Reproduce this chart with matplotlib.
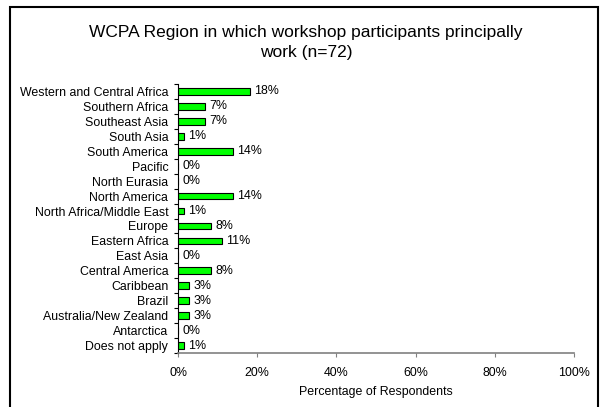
import numpy as np
import matplotlib
matplotlib.use("Agg")
import matplotlib.pyplot as plt
from matplotlib.patches import Rectangle
from matplotlib.ticker import FixedLocator, FuncFormatter

plt.rcParams['font.family'] = ['Liberation Sans', 'DejaVu Sans']

# top to bottom as in the chart
regions = ["Western and Central Africa", "Southern Africa", "Southeast Asia",
           "South Asia", "South America", "Pacific", "North Eurasia",
           "North America", "North Africa/Middle East", "Europe",
           "Eastern Africa", "East Asia", "Central America", "Caribbean",
           "Brazil", "Australia/New Zealand", "Antarctica", "Does not apply"]
pct = [18.1, 6.9, 6.9, 1.4, 13.9, 0.0, 0.0, 13.9, 1.4, 8.3,
       11.1, 0.0, 8.3, 2.8, 2.8, 2.8, 0.0, 1.4]
x_ticks = [0, 20, 40, 60, 80, 100]

fs = 8.9

fig = plt.figure(figsize=(6.04, 4.07), dpi=100)
ax = fig.add_axes([178 / 604, 1 - 353 / 407, 396 / 604, 269 / 407])

y = np.arange(len(regions))
ax.barh(y, pct, height=0.45, color='#00ff00', edgecolor='black', linewidth=0.8)
for yi, v in zip(y, pct):
    ax.annotate(f"{v:.0f}%", (v, yi), xytext=(3, 0), textcoords='offset points',
                va='center', ha='left', fontsize=fs)

ax.set_ylim(len(regions) - 0.5, -0.5)
ax.set_xlim(0, 100)
ax.set_yticks(y)
ax.set_yticklabels(regions, fontsize=fs)
ax.yaxis.set_minor_locator(FixedLocator(np.arange(-0.5, len(regions), 1)))
ax.tick_params(axis='y', which='major', length=0, pad=7)
ax.tick_params(axis='y', which='minor', length=3, width=0.8, direction='out')

ax.set_xticks(x_ticks)
ax.xaxis.set_major_formatter(FuncFormatter(lambda v, p: f"{v:.0f}%"))
ax.tick_params(axis='x', length=3, width=0.8, labelsize=fs, pad=7, color='#808080')
ax.set_xlabel("Percentage of Respondents", fontsize=fs, labelpad=5)

for s in ['top', 'right']:
    ax.spines[s].set_visible(False)
ax.spines['left'].set_color('black')
ax.spines['left'].set_linewidth(0.8)
ax.spines['bottom'].set_color('#808080')
ax.spines['bottom'].set_linewidth(1.2)

fig.text(306 / 604, 1 - 25 / 407,
         "WCPA Region in which workshop participants principally\nwork (n=72)",
         ha='center', va='top', fontsize=12.5, linespacing=1.45)

# outer frame
fig.patches.append(Rectangle((9.5 / 604, -0.05), 588 / 604, 1.05 - 6.5 / 407,
                             transform=fig.transFigure, fill=False,
                             edgecolor='black', linewidth=1.5))

fig.savefig("out.png", dpi=100)
